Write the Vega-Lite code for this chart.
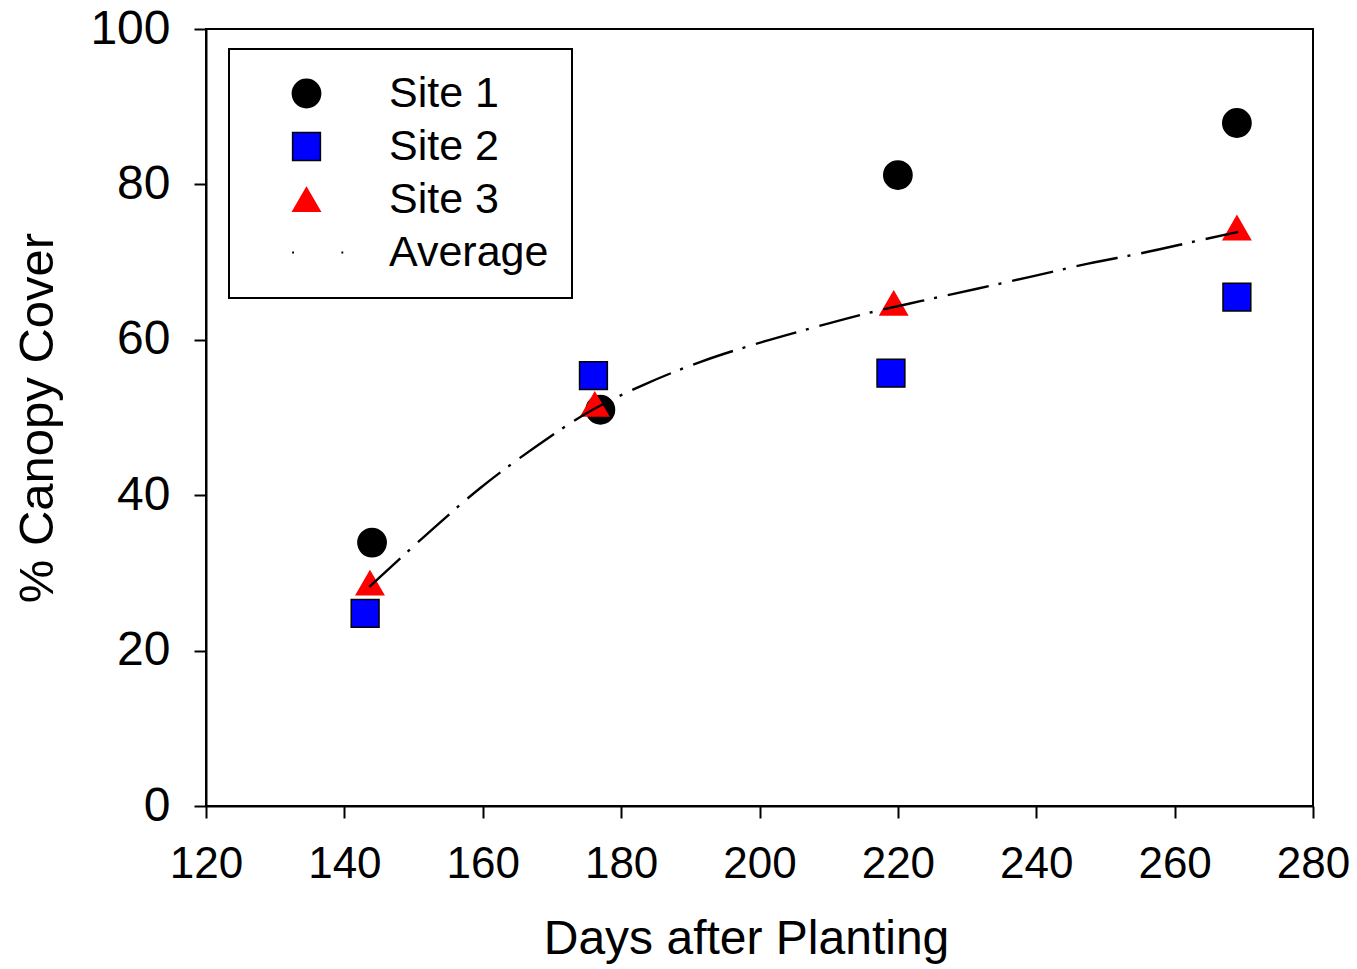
{
  "$schema": "https://vega.github.io/schema/vega-lite/v6.json",
  "autosize": "none",
  "width": 1107,
  "height": 777,
  "padding": {"left": 206, "top": 29, "right": 44, "bottom": 163},
  "background": "white",
  "datasets": {
    "sites": [
      {"series": "Site 1", "day": 144, "cover": 33.9},
      {"series": "Site 1", "day": 177, "cover": 51.0},
      {"series": "Site 1", "day": 220, "cover": 81.2},
      {"series": "Site 1", "day": 269, "cover": 87.9},
      {"series": "Site 2", "day": 143, "cover": 24.8},
      {"series": "Site 2", "day": 176, "cover": 55.4},
      {"series": "Site 2", "day": 219, "cover": 55.7},
      {"series": "Site 2", "day": 269, "cover": 65.5},
      {"series": "Site 3", "day": 143.7, "cover": 28.7},
      {"series": "Site 3", "day": 176.2, "cover": 51.7},
      {"series": "Site 3", "day": 219.4, "cover": 64.7},
      {"series": "Site 3", "day": 269, "cover": 74.4}
    ],
    "average": [
      {"day": 143.6, "cover": 28.2},
      {"day": 151.7, "cover": 34.8},
      {"day": 159.6, "cover": 40.9},
      {"day": 167.6, "cover": 46.2},
      {"day": 175.5, "cover": 50.8},
      {"day": 183.5, "cover": 54.3},
      {"day": 191.6, "cover": 57.2},
      {"day": 199.6, "cover": 59.5},
      {"day": 207.5, "cover": 61.5},
      {"day": 215.5, "cover": 63.4},
      {"day": 223.4, "cover": 65.0},
      {"day": 231.6, "cover": 66.6},
      {"day": 239.6, "cover": 68.2},
      {"day": 247.5, "cover": 69.8},
      {"day": 255.5, "cover": 71.2},
      {"day": 263.6, "cover": 72.8},
      {"day": 269.2, "cover": 73.9}
    ]
  },
  "layer": [
    {
      "data": {"name": "sites"},
      "mark": {"type": "point", "filled": true, "opacity": 1, "strokeWidth": 1.5},
      "encoding": {
        "x": {
          "field": "day", "type": "quantitative",
          "scale": {"domain": [120, 280], "nice": false, "zero": false},
          "axis": {
            "values": [120, 140, 160, 180, 200, 220, 240, 260, 280],
            "title": "Days after Planting",
            "labelFontSize": 44,
            "labelPadding": 24,
            "titleFontSize": 48,
            "titleX": 540,
            "titleY": 147,
            "titleBaseline": "alphabetic",
            "titleAlign": "center"
          }
        },
        "y": {
          "field": "cover", "type": "quantitative",
          "scale": {"domain": [0, 100], "nice": false},
          "axis": {
            "values": [0, 20, 40, 60, 80, 100],
            "title": "% Canopy Cover",
            "labelFontSize": 48,
            "labelPadding": 24,
            "titleFontSize": 49,
            "titleAngle": 270,
            "titleX": -154,
            "titleY": 388.5,
            "titleBaseline": "alphabetic",
            "titleAlign": "center"
          }
        },
        "fill": {
          "field": "series", "type": "nominal",
          "scale": {
            "domain": ["Site 1", "Site 2", "Site 3", "Average"],
            "range": ["#000000", "#0000ff", "#ff0000", "#000000"]
          },
          "legend": {"title": null}
        },
        "stroke": {
          "field": "series", "type": "nominal",
          "scale": {
            "domain": ["Site 1", "Site 2", "Site 3", "Average"],
            "range": ["#000000", "#000000", "#ff0000", "transparent"]
          },
          "legend": {"title": null}
        },
        "shape": {
          "field": "series", "type": "nominal",
          "scale": {
            "domain": ["Site 1", "Site 2", "Site 3", "Average"],
            "range": ["circle", "square", "triangle-up", "M-1.07,-0.07h0.14v0.14h-0.14zM2.6,-0.07h0.14v0.14h-0.14z"]
          },
          "legend": {"title": null}
        },
        "size": {
          "field": "series", "type": "ordinal",
          "scale": {
            "domain": ["Site 1", "Site 2", "Site 3", "Average"],
            "range": [800, 720, 850, 900]
          },
          "legend": {"title": null}
        }
      }
    },
    {
      "data": {"name": "average"},
      "mark": {
        "type": "line",
        "color": "#000000",
        "strokeWidth": 2.4,
        "strokeDash": [42, 10, 3, 11],
        "interpolate": "monotone"
      },
      "encoding": {
        "x": {"field": "day", "type": "quantitative"},
        "y": {"field": "cover", "type": "quantitative"}
      }
    }
  ],
  "config": {
    "font": "Liberation Sans",
    "view": {"stroke": "#000000", "strokeWidth": 2},
    "axis": {
      "grid": false,
      "domainColor": "#000000",
      "domainWidth": 2,
      "tickColor": "#000000",
      "tickWidth": 2,
      "tickSize": 12,
      "labelColor": "#000000",
      "labelFont": "Liberation Sans",
      "titleColor": "#000000",
      "titleFont": "Liberation Sans",
      "titleFontWeight": "normal",
      "labelOverlap": false,
      "labelFlush": false
    },
    "legend": {
      "orient": "none",
      "legendX": 23,
      "legendY": 20,
      "direction": "vertical",
      "padding": 23,
      "strokeColor": "#000000",
      "strokeWidth": 2,
      "fillColor": "#ffffff",
      "rowPadding": 9,
      "symbolOffset": 33,
      "labelOffset": 61,
      "labelFont": "Liberation Sans",
      "labelFontSize": 43,
      "labelColor": "#000000",
      "labelLimit": 0,
      "symbolStrokeWidth": 1.5,
      "symbolOpacity": 1
    }
  }
}
